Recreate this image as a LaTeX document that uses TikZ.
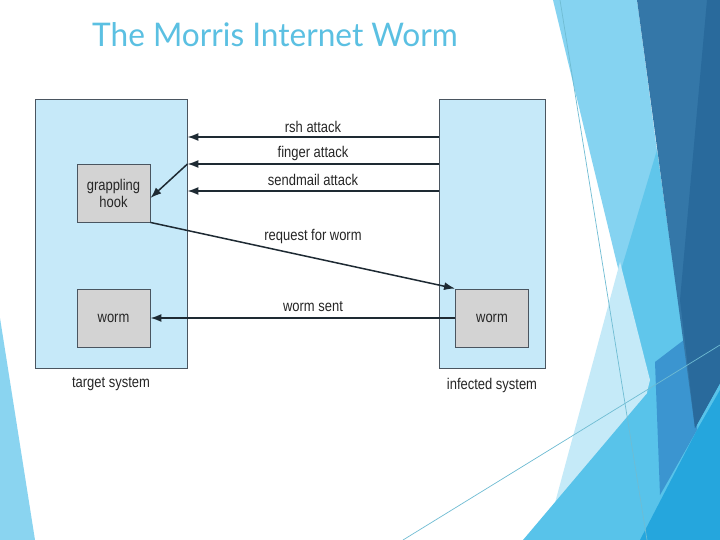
\documentclass[tikz,border=0pt]{standalone}
\usepackage{fontspec}
\setmainfont{Liberation Sans}
\newfontfamily\titlefont{Lato}
\usetikzlibrary{arrows.meta}
\definecolor{titleblue}{HTML}{5BC0E2}
\definecolor{sysfill}{HTML}{C6E9F9}
\definecolor{boxfill}{HTML}{D3D3D3}
\definecolor{edgegray}{HTML}{4A5560}
\definecolor{lineclr}{HTML}{1E2A33}
\definecolor{decoA}{HTML}{85D3F1}
\definecolor{decoB}{HTML}{60C6EB}
\definecolor{decoC}{HTML}{C5EAF8}
\definecolor{decoD}{HTML}{58C3EA}
\definecolor{decoE}{HTML}{3B95D0}
\definecolor{decoF}{HTML}{25A6DD}
\definecolor{decoG}{HTML}{3477A8}
\definecolor{decoH}{HTML}{296A9C}
\definecolor{decoL}{HTML}{6FBCD3}
\definecolor{decoT}{HTML}{8AD4F0}
\newcommand\tallt[1]{\scalebox{0.96}[1.15]{#1}}
\tikzset{
  sysbox/.style={draw=edgegray, line width=0.9pt, fill=sysfill},
  innerbox/.style={draw=edgegray, line width=0.9pt, fill=boxfill, font=\fontsize{13.5}{15}\selectfont, align=center, inner sep=0pt, text=black!85},
  arr/.style={draw=lineclr, line width=1.5pt, -{Latex[length=11pt,width=8pt]}},
  lbl/.style={font=\fontsize{13.5}{15}\selectfont, text=black!85, inner sep=0pt},
  thin line/.style={draw=decoL, line width=0.7pt}
}
\begin{document}
\begin{tikzpicture}[x=1pt, y=-1pt]
\useasboundingbox (0,0) rectangle (720,540);
\fill[white] (0,0) rectangle (720,540);
% decorative background
\fill[decoT] (0,318) -- (35,540) -- (0,540) -- cycle;
\fill[decoA] (553,0) -- (637,0) -- (690,400) -- (650,400) -- cycle;
\fill[decoB] (657,150) -- (684,340) -- (650,400) -- (612,300) -- cycle;
\fill[decoC] (620,262) -- (650,380) -- (610,540) -- (545,540) -- cycle;
\fill[decoD] (523,540) -- (660,378) -- (700,335) -- (720,330) -- (720,540) -- cycle;
\fill[decoE] (655,362) -- (697,330) -- (697,430) -- (660,495) -- cycle;
\fill[decoF] (640,540) -- (697,430) -- (720,390) -- (720,540) -- cycle;
\fill[decoG] (637,0) -- (720,0) -- (720,383) -- (695,428) -- cycle;
\fill[decoH] (707,0) -- (720,0) -- (720,383) -- (695,428) -- (680,300) -- cycle;
\draw[thin line] (560,0) -- (647,540);
\draw[thin line] (403,540) -- (720,345);
% title
\node[anchor=base west, inner sep=0pt, text=titleblue, font=\titlefont\fontsize{31}{36}\selectfont] (title) at (92,47) {\scalebox{1.02}[1.05]{The Morris Internet Worm}};
% systems
\node[sysbox, minimum width=152pt, minimum height=269pt, inner sep=0pt] (tgt) at (111,233.5) {};
\node[sysbox, minimum width=106pt, minimum height=269pt, inner sep=0pt] (ifc) at (492.5,233.5) {};
\node[innerbox, minimum width=73pt, minimum height=58pt] (hook) at (113.5,193) {\tallt{grappling}\\[2pt]\tallt{hook}};
\node[innerbox, minimum width=73pt, minimum height=58pt] (lworm) at (113.5,318) {\tallt{worm}};
\node[innerbox, minimum width=73pt, minimum height=58pt] (rworm) at (492,318) {\tallt{worm}};
% attack arrows
\coordinate (r1) at (0,137);
\coordinate (r2) at (0,164);
\coordinate (r3) at (0,191);
\coordinate (hk) at (0,198);
\draw[arr] (ifc.west |- r1) -- (tgt.east |- r1);
\draw[arr] (ifc.west |- r2) -- (tgt.east |- r2);
\draw[arr] (ifc.west |- r3) -- (tgt.east |- r3);
\draw[arr] (tgt.east |- r2) -- (hook.east |- hk);
\draw[arr] (hook.south east) -- (rworm.north west);
\draw[arr] (rworm.west) -- (lworm.east);
% labels
\node[lbl] (l1) at (313,127) {\tallt{rsh attack}};
\node[lbl] (l2) at (313,153) {\tallt{finger attack}};
\node[lbl] (l3) at (313,180) {\tallt{sendmail attack}};
\node[lbl] (l4) at (313,236) {\tallt{request for worm}};
\node[lbl] (l5) at (313,307) {\tallt{worm sent}};
\node[lbl] (l6) at (111,384) {\tallt{target system}};
\node[lbl] (l7) at (492,385) {\tallt{infected system}};
\end{tikzpicture}
\end{document}
